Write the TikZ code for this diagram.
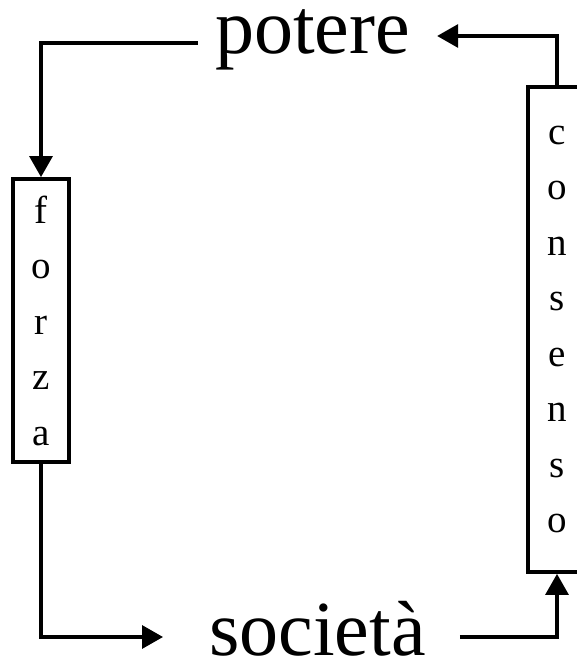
\documentclass[tikz,border=0pt]{standalone}
\usepackage{fontspec}
\setmainfont{Liberation Serif}
\usetikzlibrary{positioning,arrows.meta}

\begin{document}
\begin{tikzpicture}[x=1pt,y=1pt,
  word/.style={inner sep=0pt,text height=46pt,font=\fontsize{78}{80}\selectfont},
  column/.style={draw,line width=3.8pt,inner sep=0pt,align=center,
    font=\fontsize{39}{55.5}\selectfont},
  link/.style={line width=3.2pt,-{Triangle[length=21pt,width=23pt]}}]
\useasboundingbox (0,0) rectangle (577,667);
% the two words
\node[word,text depth=17pt,anchor=base] (potere) at (312.5,613) {potere};
\node[word,text depth=0pt,anchor=base] (societa) at (317.5,12) {società};
% the two boxes
\node[column,minimum width=56pt,minimum height=283pt] (forza) at (41,346.5) {f\\o\\r\\z\\a};
\node[column,minimum width=58pt,minimum height=485pt] (consenso) at (557,337.5) {c\\o\\n\\s\\e\\n\\s\\o};
% the cycle
\draw[link] ([xshift=-17pt,yshift=11pt]potere.base west) -| (forza.north);
\draw[link] (forza.south) |- ([xshift=-46pt,yshift=18pt]societa.base west);
\draw[link] ([xshift=34pt,yshift=18pt]societa.base east) -| (consenso.south);
\draw[link] (consenso.north) |- ([xshift=27pt,yshift=18pt]potere.base east);
\end{tikzpicture}
\end{document}
